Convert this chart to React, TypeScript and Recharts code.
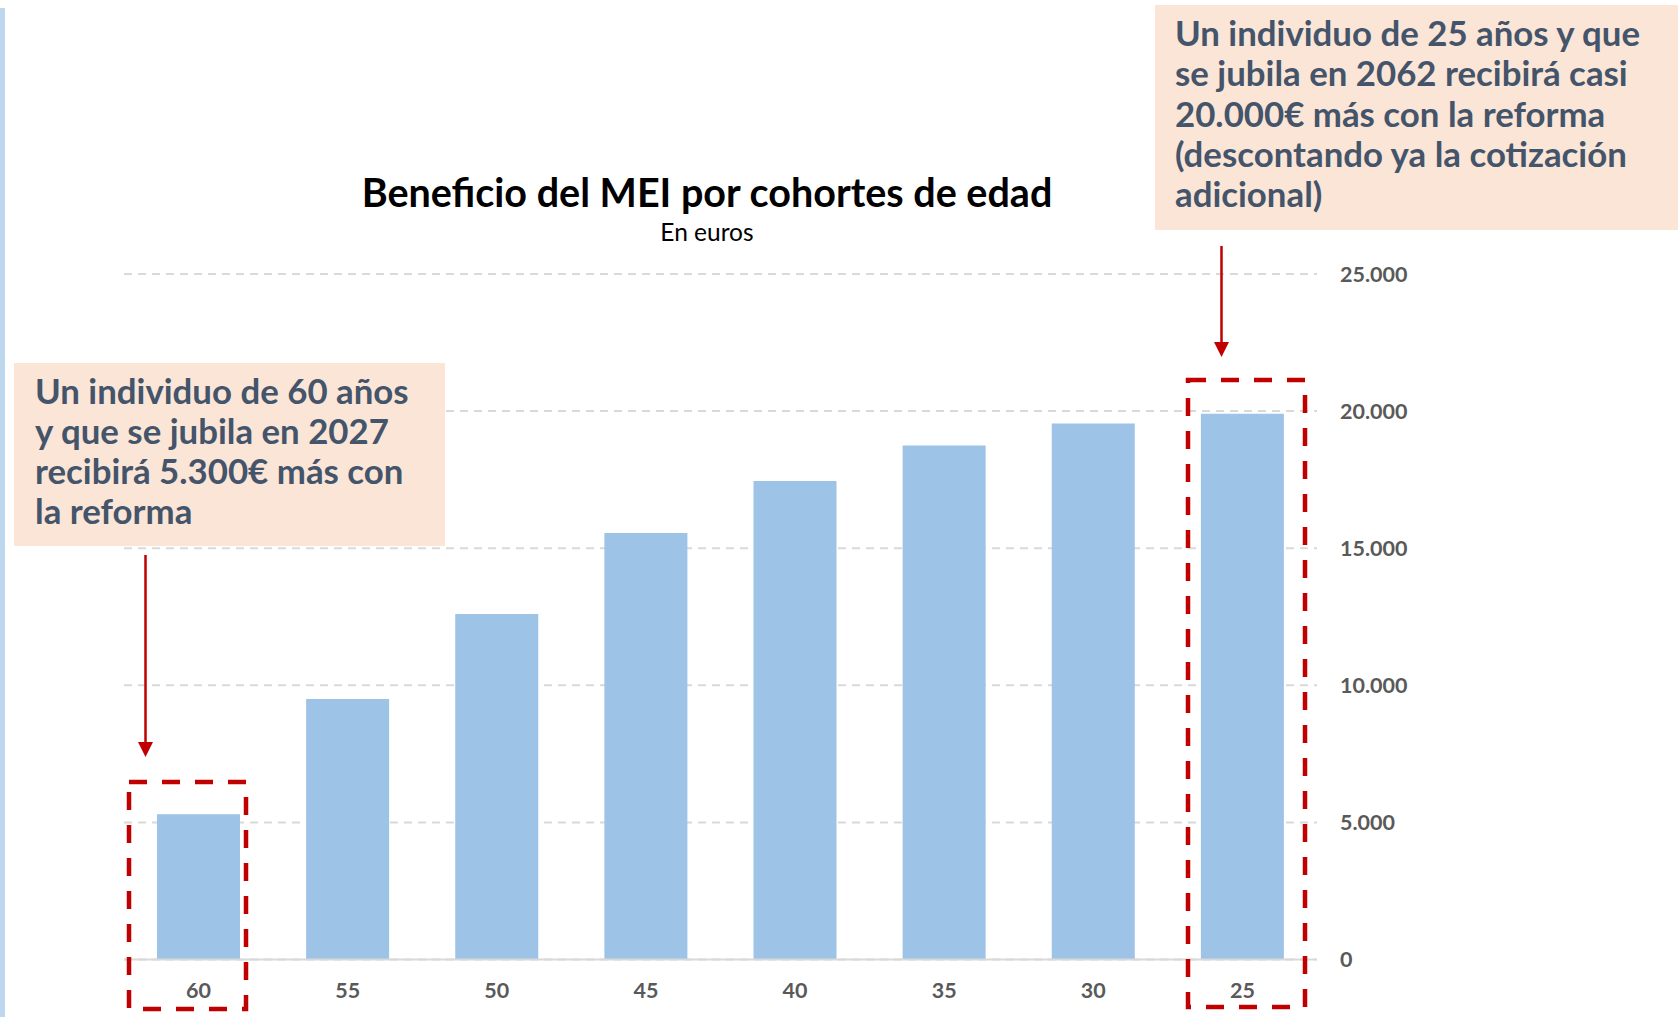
import { Bar, BarChart, CartesianGrid, XAxis, YAxis } from "recharts"

const cohorts = ["60", "55", "50", "45", "40", "35", "30", "25"]
const benefit = [5300, 9500, 12600, 15550, 17450, 18750, 19550, 19900]
const yTicks = [0, 5000, 10000, 15000, 20000, 25000]

const titleText = "Beneficio del MEI por cohortes de edad"
const subtitleText = "En euros"
const noteLeft = [
  "Un individuo de 60 años",
  "y que se jubila en 2027",
  "recibirá 5.300€ más con",
  "la reforma",
]
const noteRight = [
  "Un individuo de 25 años y que",
  "se jubila en 2062 recibirá casi",
  "20.000€ más con la reforma",
  "(descontando ya la cotización",
  "adicional)",
]

const data = cohorts.map((c, i) => ({ cohort: c, value: benefit[i] }))

const W = 1678
const H = 1017
const FONT = "Lato, 'Open Sans', sans-serif"
const RED = "#C00000"
const NOTE_TEXT = "#44546A"
const NOTE_BG = "#FBE5D6"

const fmt = (v: number) => String(v).replace(/\B(?=(\d{3})+(?!\d))/g, ".")

const tickStyle = {
  fill: "#595959",
  fontSize: 21.5,
  fontWeight: 700,
  fontFamily: FONT,
}

function Arrow({ x, y1, y2 }: { x: number; y1: number; y2: number }) {
  return (
    <g>
      <line x1={x} y1={y1} x2={x} y2={y2 - 12} stroke={RED} strokeWidth={2.5} />
      <polygon
        points={`${x - 7.5},${y2 - 15} ${x + 7.5},${y2 - 15} ${x},${y2}`}
        fill={RED}
      />
    </g>
  )
}

export default function App() {
  return (
    <div
      style={{
        position: "fixed",
        left: 0,
        top: 0,
        width: W,
        height: H,
        background: "#fff",
      }}
    >
      <BarChart
        width={W}
        height={H}
        data={data}
        margin={{ top: 274, right: 281, left: 124, bottom: 17.5 }}
      >
        <CartesianGrid
          vertical={false}
          stroke="#D9D9D9"
          strokeWidth={2}
          strokeDasharray="8 6"
        />
        <XAxis
          dataKey="cohort"
          height={40}
          axisLine={{ stroke: "#D9D9D9", strokeWidth: 2 }}
          tickLine={false}
          tickSize={0}
          tickMargin={23}
          tick={tickStyle}
          interval={0}
        />
        <YAxis
          orientation="right"
          width={80}
          domain={[0, 25000]}
          ticks={yTicks}
          axisLine={false}
          tickLine={false}
          tickSize={0}
          tickMargin={23}
          tick={tickStyle}
          tickFormatter={fmt}
        />
        <Bar
          dataKey="value"
          fill="#9DC3E6"
          barSize={83}
          isAnimationActive={false}
        />
      </BarChart>

      <svg
        width={W}
        height={H}
        style={{ position: "absolute", left: 0, top: 0, pointerEvents: "none" }}
      >
        <rect x={0} y={8} width={5} height={H - 8} fill="#BDD7EE" />

        <text
          x={707}
          y={207}
          textAnchor="middle"
          fontFamily={FONT}
          fontWeight={700}
          fontSize={39.5}
          fill="#000"
        >
          {titleText}
        </text>
        <text
          x={707}
          y={241}
          textAnchor="middle"
          fontFamily={FONT}
          fontSize={24.5}
          fill="#000"
        >
          {subtitleText}
        </text>

        <rect x={14} y={363} width={431} height={183} fill={NOTE_BG} />
        {noteLeft.map((line, i) => (
          <text
            key={line}
            x={35}
            y={404 + i * 40}
            fontFamily={FONT}
            fontWeight={700}
            fontSize={34.8}
            fill={NOTE_TEXT}
          >
            {line}
          </text>
        ))}

        <rect x={1155} y={5} width={W - 1155} height={225} fill={NOTE_BG} />
        {noteRight.map((line, i) => (
          <text
            key={line}
            x={1175}
            y={46 + i * 40.3}
            fontFamily={FONT}
            fontWeight={700}
            fontSize={34.8}
            fill={NOTE_TEXT}
          >
            {line}
          </text>
        ))}

        <Arrow x={145.5} y1={555} y2={757} />
        <Arrow x={1221.5} y1={246} y2={357} />

        <rect
          x={129}
          y={782}
          width={117}
          height={227}
          fill="none"
          stroke={RED}
          strokeWidth={4.5}
          strokeDasharray="18 15"
        />
        <rect
          x={1188}
          y={380}
          width={117}
          height={627}
          fill="none"
          stroke={RED}
          strokeWidth={4.5}
          strokeDasharray="18 15"
        />
      </svg>
    </div>
  )
}
